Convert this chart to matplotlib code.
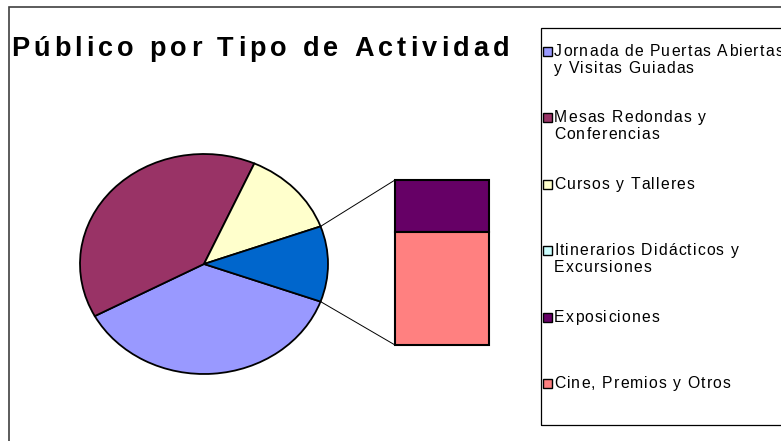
import numpy as np
import matplotlib
matplotlib.use('Agg')
import matplotlib.pyplot as plt
from matplotlib.patches import Rectangle
from matplotlib.font_manager import FontProperties, findfont, get_font

labels = ['Jornada de Puertas Abiertas\ny Visitas Guiadas',
          'Mesas Redondas y\nConferencias',
          'Cursos y Talleres',
          'Itinerarios Didácticos y\nExcursiones',
          'Exposiciones',
          'Cine, Premios y Otros']
values = [36.6, 39.5, 12.8, 0.0, 3.5, 7.6]
colors = ['#9999FF', '#993366', '#FFFFCC', '#CCFFFF', '#660066', '#FF8080']
other_color = '#0066CC'
n_pie = 3  # first three go in the pie, the rest in the bar

W, H = 781, 441
fig = plt.figure(figsize=(W / 100, H / 100), dpi=100)
fig.patch.set_facecolor('white')


def px(x, y):
    return x / W, 1 - y / H


def advances(s, fp, size):
    font = get_font(findfont(fp))
    font.set_size(size, fig.dpi)
    return [font.load_char(ord(ch)).linearHoriAdvance / 65536 for ch in s]


def spaced_text(x, y, s, size, spacing, weight='normal'):
    # Excel style letter-spaced text, drawn one glyph at a time
    fp = FontProperties(family='Liberation Sans', weight=weight, size=size)
    for ch, adv in zip(s, advances(s, fp, size)):
        if ch != ' ':
            fig.text(*px(x, y), ch, fontproperties=fp, va='baseline', ha='left')
        x += adv + spacing


def fit_spacing(s, size, width, weight='normal'):
    fp = FontProperties(family='Liberation Sans', weight=weight, size=size)
    return (width - sum(advances(s, fp, size))) / (len(s) - 1)


# outer chart frame
fig.patches.append(Rectangle(px(9, 460), 800 / W, 453 / H, transform=fig.transFigure,
                             fill=False, edgecolor='#404040', linewidth=1.2))

# pie (elliptical, like Excel's perspective)
cx, cy, rx, ry = 204, 264, 124, 110
ax = fig.add_axes([(cx - rx) / W, 1 - (cy + ry) / H, 2 * rx / W, 2 * ry / H])
pie_vals = values[:n_pie] + [sum(values[n_pie:])]
other = pie_vals[-1]
half = other / sum(pie_vals) * 360 / 2
ax.pie(pie_vals, colors=colors[:n_pie] + [other_color], startangle=-half,
       counterclock=False, wedgeprops=dict(edgecolor='black', linewidth=1.3))
ax.set_aspect('auto')
ax.set_xlim(-1, 1)
ax.set_ylim(-1, 1)
ax.axis('off')

# bar of the split-off slices
bar_left, bar_w = (395 - cx) / rx, (489 - 395) / rx
bar_top = (cy - 180) / ry
bar_h = (345 - 180) / ry
scale = bar_h / other
y = bar_top
for v, c in zip(values[n_pie:], colors[n_pie:]):
    h = v * scale
    if h > 0:
        ax.bar(bar_left + bar_w / 2, h, bar_w, bottom=y - h, color=c,
               edgecolor='black', linewidth=1.5, clip_on=False)
    y -= h

# connector lines
a = np.radians(half)
ax.plot([np.cos(a), bar_left], [np.sin(a), bar_top], color='black', lw=0.7, clip_on=False)
ax.plot([np.cos(a), bar_left], [-np.sin(a), bar_top - bar_h], color='black', lw=0.7, clip_on=False)

# title
title = 'Público por Tipo de Actividad'
tsize = 19.5
spaced_text(11, 56, title, tsize, fit_spacing(title, tsize, 498, 'bold'), weight='bold')

# legend
lsize = 11.3
lsp = fit_spacing(labels[0].split('\n')[0], lsize, 229)
fig.patches.append(Rectangle(px(541, 425), 300 / W, 397 / H, transform=fig.transFigure,
                             fill=False, edgecolor='black', linewidth=0.9))
for i, (lab, c) in enumerate(zip(labels, colors)):
    base = 56 + i * 66.4
    fig.patches.append(Rectangle(px(543, base), 9 / W, 9 / H, transform=fig.transFigure,
                                 facecolor=c, edgecolor='black', linewidth=1.0))
    for j, line in enumerate(lab.split('\n')):
        spaced_text(554, base + j * 17, line, lsize, lsp)

plt.savefig('out.png', dpi=100)
